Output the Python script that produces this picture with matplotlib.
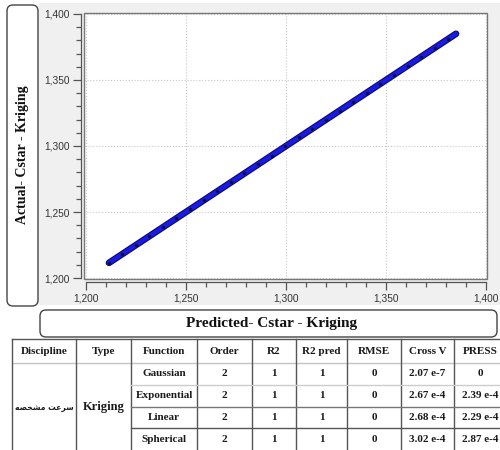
import matplotlib
matplotlib.use("Agg")
import matplotlib.pyplot as plt
from matplotlib.patches import Rectangle, FancyBboxPatch
from matplotlib.ticker import MultipleLocator, FuncFormatter

# ---- data -------------------------------------------------------------
predicted = [1211.5, 1214.6, 1218.0, 1221.3, 1224.9, 1228.2, 1231.6, 1235.1,
             1238.4, 1241.9, 1245.2, 1248.7, 1252.0, 1255.5, 1258.8, 1262.3,
             1265.7, 1269.0, 1272.5, 1275.9, 1279.2, 1282.7, 1286.0, 1289.5,
             1292.8, 1296.3, 1299.7, 1303.0, 1306.5, 1309.9, 1313.2, 1316.7,
             1320.0, 1323.5, 1326.8, 1330.3, 1333.7, 1337.0, 1340.5, 1343.9,
             1347.2, 1350.7, 1354.0, 1357.5, 1360.8, 1364.3, 1367.7, 1371.0,
             1374.5, 1377.9, 1381.2, 1385.0]
actual = [1211.5, 1214.6, 1218.0, 1221.3, 1224.9, 1228.2, 1231.6, 1235.1,
          1238.4, 1241.9, 1245.2, 1248.7, 1252.0, 1255.5, 1258.8, 1262.3,
          1265.7, 1269.0, 1272.5, 1275.9, 1279.2, 1282.7, 1286.0, 1289.5,
          1292.8, 1296.3, 1299.7, 1303.0, 1306.5, 1309.9, 1313.2, 1316.7,
          1320.0, 1323.5, 1326.8, 1330.3, 1333.7, 1337.0, 1340.5, 1343.9,
          1347.2, 1350.7, 1354.0, 1357.5, 1360.8, 1364.3, 1367.7, 1371.0,
          1374.5, 1377.9, 1381.2, 1385.0]

x_label = "Predicted- Cstar - Kriging"
y_label = "Actual- Cstar - Kriging"

headers = ["Discipline", "Type", "Function", "Order", "R2", "R2 pred",
           "RMSE", "Cross V", "PRESS"]
# "سرعت مشخصه" written in Arabic presentation forms (visual order)
discipline = "\uFEEA\uFEBC\uFEA8\uFEB8\uFEE3 \uFE96\uFECB\uFEAE\uFEB3"
model_type = "Kriging"
functions = ["Gaussian", "Exponential", "Linear", "Spherical"]
order = ["2", "2", "2", "2"]
r2 = ["1", "1", "1", "1"]
r2_pred = ["1", "1", "1", "1"]
rmse = ["0", "0", "0", "0"]
cross_v = ["2.07 e-7", "2.67 e-4", "2.68 e-4", "3.02 e-4"]
press = ["0", "2.39 e-4", "2.29 e-4", "2.87 e-4"]

# ---- figure -----------------------------------------------------------
W, H = 500, 450
fig = plt.figure(figsize=(W / 100, H / 100), dpi=100)
fig.patch.set_facecolor("white")

# full-figure canvas in pixel units for boxes and the table
bg = fig.add_axes([0, 0, 1, 1], zorder=0)
bg.set_xlim(0, W)
bg.set_ylim(H, 0)
bg.axis("off")

bg.add_patch(Rectangle((38, 3), W - 38, 302, facecolor="#f0f0f0",
                       edgecolor="none"))

serif = ["Liberation Serif", "DejaVu Serif"]
sans = ["Liberation Sans", "DejaVu Sans"]

# y-label box
bg.add_patch(FancyBboxPatch((7, 5), 31, 301,
                            boxstyle="round,pad=0,rounding_size=6",
                            facecolor="white", edgecolor="#444", lw=1))
bg.text(22.5, 155, y_label, rotation=90, ha="center", va="center",
        family=serif, weight="bold", fontsize=10, color="#111")

# x-label box
bg.add_patch(FancyBboxPatch((40, 310), 457, 27,
                            boxstyle="round,pad=0,rounding_size=6",
                            facecolor="white", edgecolor="#444", lw=1))
bg.text(272, 324, x_label, ha="center", va="center",
        family=serif, weight="bold", fontsize=11, color="#111")

# ---- scatter plot -----------------------------------------------------
ax = fig.add_axes([84 / W, 1 - 279 / H, (487 - 84) / W, (279 - 13) / H],
                  zorder=2)
ax.set_facecolor("white")
ax.set_xlim(1199, 1400.5)
ax.set_ylim(1199.25, 1400.75)

for s in ["top", "right"]:
    ax.spines[s].set_visible(False)
for s in ["left", "bottom"]:
    ax.spines[s].set_position(("outward", 2.2))
    ax.spines[s].set_color("#555")
    ax.spines[s].set_linewidth(0.9)
ax.spines["left"].set_bounds(1200, 1400)
ax.spines["bottom"].set_bounds(1200, 1400)
ax.add_patch(Rectangle((0, 0), 1, 1, transform=ax.transAxes, fill=False,
                       edgecolor="#777", lw=1, clip_on=False, zorder=5))

ax.xaxis.set_major_locator(MultipleLocator(50))
ax.xaxis.set_minor_locator(MultipleLocator(10))
ax.yaxis.set_major_locator(MultipleLocator(50))
ax.yaxis.set_minor_locator(MultipleLocator(10))
fmt = FuncFormatter(lambda v, p: f"{int(round(v)):,}")
ax.xaxis.set_major_formatter(fmt)
ax.yaxis.set_major_formatter(fmt)
ax.tick_params(which="major", length=6, width=0.9, color="#555",
               labelsize=7.3, labelcolor="#333", pad=2)
ax.tick_params(which="minor", length=3.5, width=0.9, color="#555")
for lab in ax.get_xticklabels() + ax.get_yticklabels():
    lab.set_family(sans)

ax.grid(True, which="major", linestyle=":", color="#c8c8c8", lw=0.8)
ax.set_axisbelow(True)

ax.plot(predicted, actual, color="#0a0a70", lw=4.8,
        solid_capstyle="round", zorder=3)
ax.plot(predicted, actual, color="#1a1ae0", lw=3.2,
        solid_capstyle="round", zorder=4)
ax.plot(predicted[::2], actual[::2], linestyle="none", marker="o",
        markersize=1.6, color="#0a0a45", alpha=0.8, zorder=4)

# ---- results table ----------------------------------------------------
col_x = [12, 76, 131, 197, 252, 296, 347, 401, 454, 506]
row_y = [339, 363, 385, 407, 428, 451]
tkw = dict(ha="center", va="center", family=serif, weight="bold",
           fontsize=8, color="#1a1a1a")

# outer/top lines
bg.plot([col_x[0], W], [row_y[0], row_y[0]], color="#555", lw=1)
bg.plot([col_x[0], W], [row_y[1], row_y[1]], color="#c4c4c4", lw=1)
for x in col_x[:-1]:
    bg.plot([x, x], [row_y[0], H], color="#555", lw=1)
row_line_colors = ["#cccccc", "#777777", "#555555"]
for y, c in zip(row_y[2:5], row_line_colors):
    bg.plot([col_x[2], W], [y, y], color=c, lw=1)

for i, h in enumerate(headers):
    bg.text((col_x[i] + col_x[i + 1]) / 2, 352, h, **tkw)

merged_y = (row_y[1] + row_y[5]) / 2
bg.text((col_x[0] + col_x[1]) / 2, merged_y, discipline, ha="center",
        va="center", family=["DejaVu Sans"], weight="bold", fontsize=5.5,
        color="#1a1a1a")
bg.text((col_x[1] + col_x[2]) / 2, merged_y, model_type,
        **{**tkw, "fontsize": 9})

columns = [functions, order, r2, r2_pred, rmse, cross_v, press]
for r in range(4):
    yc = (row_y[r + 1] + row_y[r + 2]) / 2
    for c, col in enumerate(columns):
        ci = c + 2
        bg.text((col_x[ci] + col_x[ci + 1]) / 2, yc, col[r], **tkw)

fig.savefig("out.png", dpi=100)
